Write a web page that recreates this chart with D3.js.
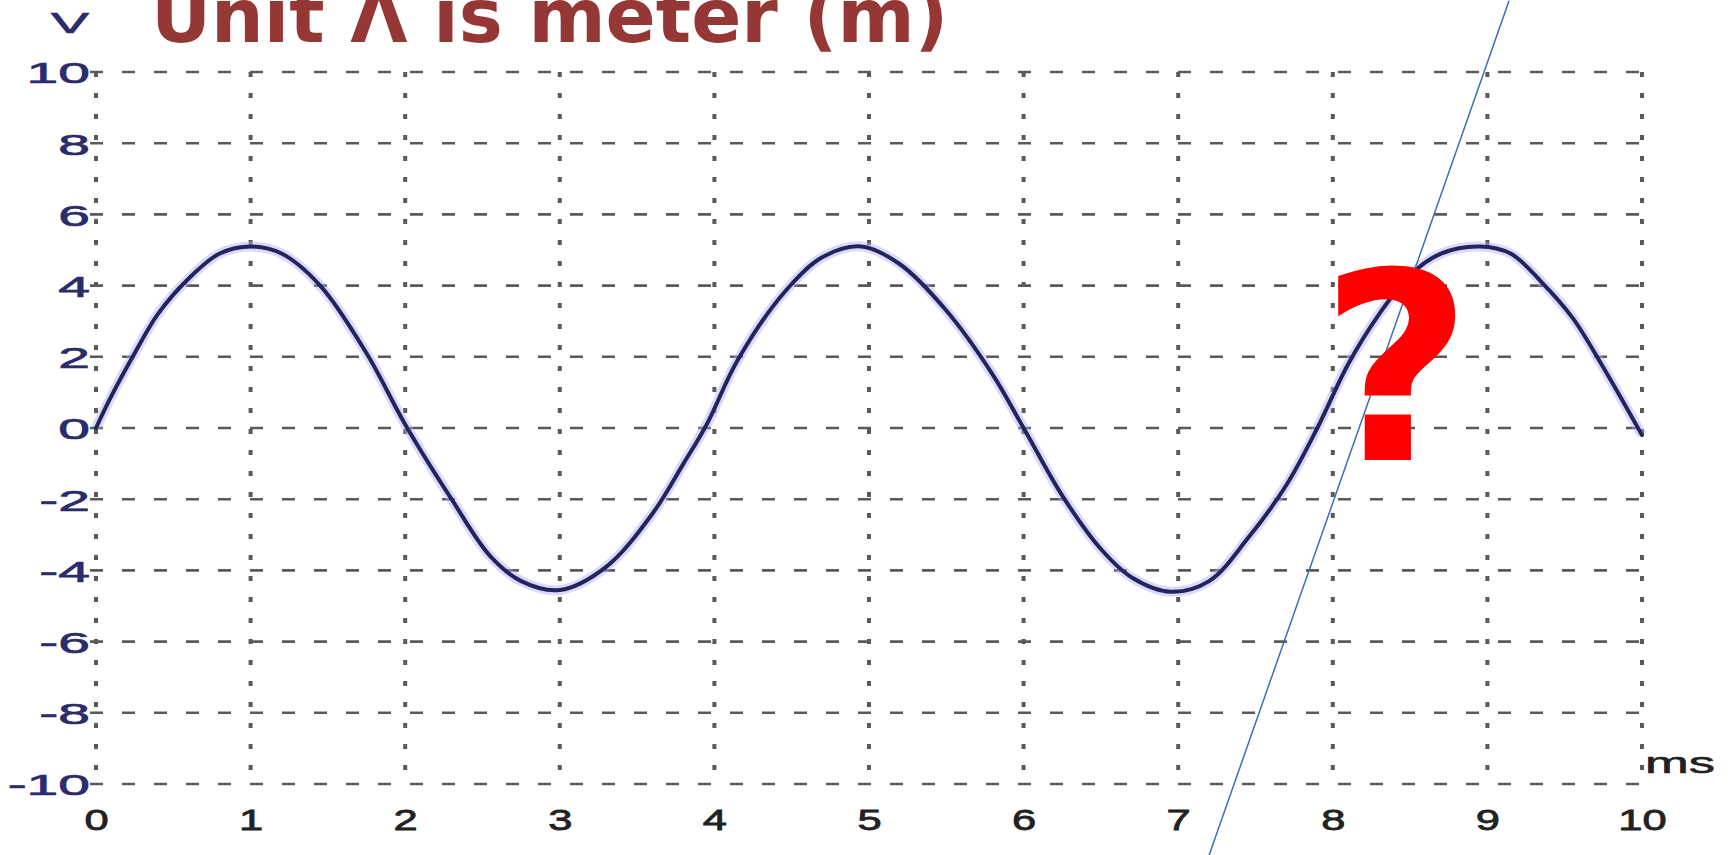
<!DOCTYPE html>
<html>
<head>
<meta charset="utf-8">
<script src="https://cdn.jsdelivr.net/npm/d3@7"></script>
<style>
  html, body { margin: 0; padding: 0; background: #ffffff; }
  svg { display: block; }
</style>
</head>
<body>
<svg id="chart" width="1729" height="855"></svg>
<script>
// ---- data ----
const titleText = "Unit Λ is meter (m)";
const xTickValues = [0, 1, 2, 3, 4, 5, 6, 7, 8, 9, 10];
const yTickValues = [-10, -8, -6, -4, -2, 0, 2, 4, 6, 8, 10];
const xUnit = "ms";
const yUnit = "V";
const timeMs = [0, 0.1, 0.25, 0.4, 0.6, 0.8, 1.0, 1.2, 1.45, 1.75, 2.0, 2.3, 2.55, 2.75, 3.0,
                3.3, 3.6, 3.8, 3.95, 4.15, 4.45, 4.7, 4.95, 5.2, 5.5, 5.8, 6.0, 6.25, 6.5, 6.7,
                6.95, 7.2, 7.45, 7.7, 7.9, 8.1, 8.3, 8.5, 8.7, 8.95, 9.15, 9.35, 9.55, 9.75, 10.0];
const voltage = [0, 0.9, 2.1, 3.2, 4.2, 4.9, 5.1, 4.9, 4.0, 2.1, 0.1, -2.0, -3.6, -4.3, -4.55,
                 -3.9, -2.4, -1.0, 0.1, 1.9, 3.8, 4.8, 5.1, 4.6, 3.3, 1.5, 0.0, -1.9, -3.4, -4.2,
                 -4.6, -4.3, -3.1, -1.6, 0.0, 1.8, 3.2, 4.3, 4.9, 5.1, 4.9, 4.1, 3.1, 1.7, -0.2];
// annotation: slanted thin line (data coords) and the red question mark
const slashLine = [[7.2, -12.0], [9.14, 12.0]];
const questionMark = { t: 8.41, v: -0.9, text: "?" };

// ---- drawing ----
const svg = d3.select("#chart");
const x = d3.scaleLinear().domain([0, 10]).range([96, 1642]);
const y = d3.scaleLinear().domain([-10, 10]).range([784, 72]);

// horizontal dashed grid
svg.append("g").selectAll("line").data(yTickValues).join("line")
  .attr("x1", x(0) - 6).attr("x2", x(10))
  .attr("y1", d => y(d)).attr("y2", d => y(d))
  .attr("stroke", "#5a5a5a").attr("stroke-width", 2.6)
  .attr("stroke-dasharray", "13,19");

// vertical dotted grid
svg.append("g").selectAll("line").data(xTickValues).join("line")
  .attr("x1", d => x(d)).attr("x2", d => x(d))
  .attr("y1", y(10)).attr("y2", y(-10))
  .attr("stroke", "#5a5a5a").attr("stroke-width", 4)
  .attr("stroke-dasharray", "5,16");

// y axis labels
const yAxis = svg.append("g").attr("transform", "translate(90,0)")
  .call(d3.axisLeft(y).tickValues(yTickValues).tickSize(0).tickPadding(0).tickFormat(d => String(d)));
yAxis.select(".domain").remove();
yAxis.selectAll("text")
  .attr("x", 0).attr("dy", "0.36em")
  .attr("transform", "scale(1.9,1)")
  .attr("fill", "#2c2c6c").attr("stroke", "#2c2c6c").attr("stroke-width", 0.7)
  .style("font-family", "'Liberation Sans', Arial, sans-serif")
  .style("font-size", "30px");

// x axis labels
const xAxis = svg.append("g").attr("transform", "translate(0,819)")
  .call(d3.axisBottom(x).tickValues(xTickValues).tickSize(0).tickPadding(0).tickFormat(d => String(d)));
xAxis.select(".domain").remove();
xAxis.selectAll("text")
  .attr("y", 0).attr("dy", "0.36em")
  .attr("transform", "scale(1.45,1)")
  .attr("fill", "#222222").attr("stroke", "#222222").attr("stroke-width", 0.8)
  .style("font-family", "'Liberation Sans', Arial, sans-serif")
  .style("font-size", "30px");

// unit labels
svg.append("text").text(yUnit)
  .attr("transform", `translate(70,${y(10) - 50}) scale(1.9,1)`)
  .attr("text-anchor", "middle").attr("dy", "0.36em")
  .attr("fill", "#2c2c6c").attr("stroke", "#2c2c6c").attr("stroke-width", 0.7)
  .style("font-family", "'Liberation Sans', Arial, sans-serif").style("font-size", "30px");
svg.append("text").text(xUnit)
  .attr("transform", `translate(${x(10) + 3},${y(-10) - 11}) scale(1.75,1)`)
  .attr("text-anchor", "start")
  .attr("fill", "#222222").attr("stroke", "#222222").attr("stroke-width", 0.6)
  .style("font-family", "'Liberation Sans', Arial, sans-serif").style("font-size", "30px");

// waveform
const pts = timeMs.map((t, i) => [t, voltage[i]]);
const line = d3.line().x(d => x(d[0])).y(d => y(d[1])).curve(d3.curveCatmullRom.alpha(0.5));
svg.append("path").datum(pts).attr("d", line)
  .attr("fill", "none").attr("stroke", "#aaaaf0").attr("stroke-width", 10)
  .attr("stroke-opacity", 0.45).attr("stroke-linejoin", "round");
svg.append("path").datum(pts).attr("d", line)
  .attr("fill", "none").attr("stroke", "#23235e").attr("stroke-width", 4)
  .attr("stroke-linejoin", "round").attr("stroke-linecap", "round");

// title
svg.append("text").text(titleText)
  .attr("x", 151).attr("y", 42)
  .attr("fill", "#953735")
  .style("font-family", "'DejaVu Sans', Verdana, sans-serif")
  .style("font-weight", "bold").style("font-size", "74px");

// slanted thin line
svg.append("line")
  .attr("x1", x(slashLine[0][0])).attr("y1", y(slashLine[0][1]))
  .attr("x2", x(slashLine[1][0])).attr("y2", y(slashLine[1][1]))
  .attr("stroke", "#3b6fb6").attr("stroke-width", 1.5);

// red question mark
svg.append("text").text(questionMark.text)
  .attr("x", x(questionMark.t)).attr("y", y(questionMark.v))
  .attr("text-anchor", "middle")
  .attr("fill", "#ff0000")
  .style("font-family", "'DejaVu Sans', Verdana, sans-serif")
  .style("font-weight", "bold").style("font-size", "262px");
</script>
</body>
</html>
